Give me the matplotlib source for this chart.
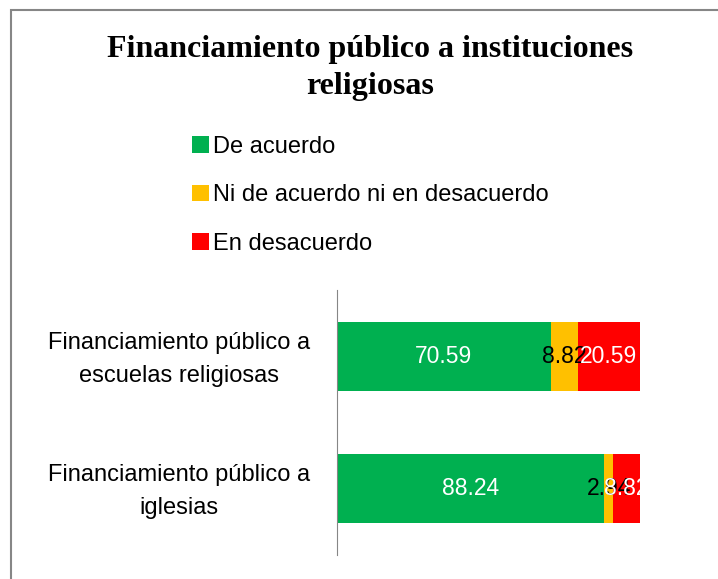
import matplotlib.pyplot as plt
from matplotlib.patches import Patch, Rectangle

categories = ['Financiamiento público a\nescuelas religiosas',
              'Financiamiento público a\niglesias']
series = ['De acuerdo', 'Ni de acuerdo ni en desacuerdo', 'En desacuerdo']
values = {
    'De acuerdo': [70.59, 88.24],
    'Ni de acuerdo ni en desacuerdo': [8.82, 2.94],
    'En desacuerdo': [20.59, 8.82],
}
colors = ['#00B050', '#FFC000', '#FF0000']
label_colors = ['white', 'black', 'white']

sans = 'Liberation Sans'
fig = plt.figure(figsize=(7.18, 5.79), dpi=100)

# chart frame
fig.patches.append(Rectangle((11 / 718, -0.1), 1.0, 1 - 10 / 579 + 0.1,
                             transform=fig.transFigure, fill=False,
                             edgecolor='#868686', linewidth=1.5))

fig.text(370 / 718, 1 - 68 / 579, 'Financiamiento público a instituciones\nreligiosas',
         ha='center', va='center', fontsize=23, fontweight='bold',
         family='Liberation Serif', linespacing=1.38)

ax = fig.add_axes([337 / 718, 1 - 555 / 579, 303 / 718, 265 / 579])
y = list(range(len(categories)))
left = [0] * len(categories)
for name, c, tc in zip(series, colors, label_colors):
    vals = values[name]
    bars = ax.barh(y, vals, left=left, height=0.52, color=c, label=name)
    for b, v in zip(bars, vals):
        ax.text(b.get_x() + b.get_width() / 2, b.get_y() + b.get_height() / 2,
                f'{v:.2f}', ha='center', va='center', color=tc,
                fontsize=16.5, family=sans, clip_on=True)
    left = [l + v for l, v in zip(left, vals)]

ax.set_xlim(0, 100)
ax.set_ylim(1.5, -0.5)
ax.set_yticks(y)
ax.set_yticklabels([])
ax.tick_params(axis='y', length=0)
for yi, cat in zip(y, categories):
    ax.annotate(cat, xy=(0, yi), xycoords=('axes fraction', 'data'),
                xytext=(-27, -3), textcoords='offset pixels', ha='right', va='center',
                multialignment='center', fontsize=17, family=sans, linespacing=1.62)
ax.set_xticks([])
for s in ['top', 'right', 'bottom']:
    ax.spines[s].set_visible(False)
ax.spines['left'].set_color('#868686')

handles = [Patch(facecolor=c, label=n) for n, c in zip(series, colors)]
fig.legend(handles=handles, loc='upper left', bbox_to_anchor=(192 / 718, 1 - 136 / 579),
           frameon=False, prop={'family': sans, 'size': 17}, handlelength=0.7,
           handleheight=0.7, handletextpad=0.2, labelspacing=1.12, borderaxespad=0,
           borderpad=0)

fig.savefig('out.png', dpi=100)
